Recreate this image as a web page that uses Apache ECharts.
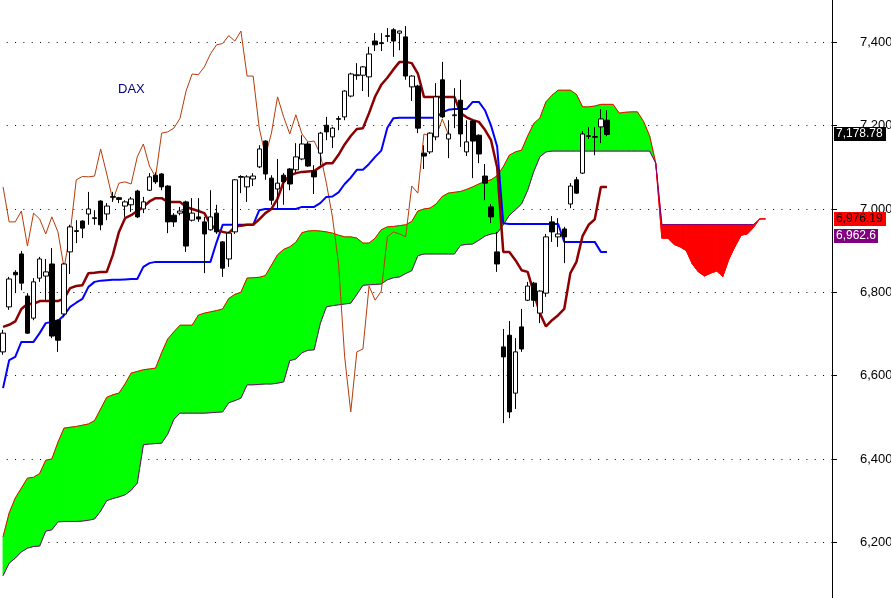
<!DOCTYPE html>
<html><head><meta charset="utf-8">
<script src="https://cdn.jsdelivr.net/npm/echarts/dist/echarts.min.js"></script>
<style>html,body{margin:0;padding:0;background:#fff}#c{width:891px;height:598px}</style>
</head><body><div id="c"></div>
<script>
// ---- candle data (DAX daily) ----
const open = [6657,6765,6848,6892,6791,6738,6834,6839,6868,6733,6748,6897,6946,6971,6988,6977,7019,6988,7028,7027,
7007,7010,7043,7000,7045,7081,7084,7055,6985,6990,7017,6973,6981,6969,6950,6990,6921,6880,6945,7076,
7053,7072,7101,7163,7074,7048,7081,7096,7094,7120,7156,7091,7134,7201,7173,7215,7221,7271,7320,7321,
7317,7403,7399,7414,7430,7422,7413,7293,7295,7134,7137,7173,7310,7168,7224,7261,7137,7211,7177,7079,
7005,6897,6669,6697,6558,6717,6781,6822,6750,6798,6969,6933,6952,7012,7070,7086,7174,7172,7197,7213];
const close = [6702,6832,6842,6822,6702,6825,6880,6849,6695,6685,6868,6957,6948,6954,7000,6979,6962,7007,7030,7023,
7017,7024,6981,7017,7077,7065,7053,6969,6969,6995,6911,6990,6976,6940,6981,6945,6858,6942,7070,7078,
7077,7079,7144,7084,7021,7062,7065,7060,7125,7156,7103,7077,7182,7185,7194,7217,7283,7324,7322,7341,
7372,7394,7397,7416,7403,7427,7319,7319,7194,7127,7182,7269,7221,7180,7226,7180,7161,7163,7132,7062,
6981,6868,6645,6513,6657,6664,6815,6781,6803,6933,6945,6940,6933,7055,7038,7180,7176,7174,7216,7178.78];
const low = [6650,6758,6798,6805,6700,6733,6825,6781,6690,6657,6740,6844,6918,6930,6962,6962,6949,6973,7017,7014,
6981,6993,6978,6990,7043,7060,7045,6942,6957,6985,6897,6970,6969,6846,6948,6940,6837,6861,6940,7038,
7017,7055,7098,7070,7010,7002,7010,7045,7088,7117,7101,7036,7105,7165,7146,7189,7213,7268,7310,7283,
7269,7379,7379,7401,7365,7381,7310,7259,7182,7096,7132,7165,7218,7122,7194,7149,7127,7074,7110,7021,
6966,6849,6486,6498,6520,6657,6779,6765,6726,6789,6921,6909,6870,7002,7036,7084,7168,7129,7158,7175];
const high = [6710,6837,6853,6899,6798,6834,6885,6880,6906,6735,6870,6962,6973,6973,7041,6997,7021,7014,7041,7029,
7021,7029,7046,7029,7086,7088,7086,7057,6990,7005,7020,7026,7026,6981,7045,7010,6923,6945,7072,7081,
7081,7086,7153,7165,7081,7120,7086,7098,7158,7177,7161,7105,7185,7221,7197,7223,7285,7327,7350,7343,
7389,7422,7422,7434,7434,7428,7439,7321,7298,7153,7184,7302,7353,7213,7290,7310,7213,7213,7179,7108,
7012,6945,6712,6731,6690,6760,6825,6825,6805,6940,6983,6978,6957,7062,7077,7187,7197,7197,7240,7237];

// ---- Ichimoku lines ----
const tenkan = [6717,6722,6730,6760,6772,6772,6779,6779,6779,6779,6785,6810,6815,6817,6846,6847,6849,6849,6890,6945,
6978,6985,6995,7005,7018,7026,7026,7017,7017,7017,7005,7000,6995,6990,6963,6950,6945,6942,6957,6960,
6962,6962,6975,6990,7000,7025,7065,7080,7086,7089,7090,7091,7101,7110,7110,7130,7155,7175,7192,7194,
7230,7270,7298,7315,7335,7353,7353,7350,7325,7269,7269,7269,7269,7269,7269,7230,7220,7213,7209,7190,
7165,7100,6897,6897,6877,6853,6849,6800,6750,6718,6733,6745,6760,6846,6873,6935,6962,6975,7053,7053];
const kijun = [6570,6637,6645,6681,6681,6681,6702,6726,6729,6731,6745,6765,6775,6784,6813,6825,6828,6829,6830,6830,
6831,6832,6832,6861,6870,6873,6873,6873,6873,6873,6873,6873,6873,6873,6873,6920,6962,6962,6962,6962,
6962,6962,6997,7000,7000,7000,7000,7000,7000,7005,7005,7005,7014,7029,7030,7040,7060,7075,7094,7094,
7108,7125,7140,7195,7218,7219,7219,7219,7219,7219,7219,7219,7232,7238,7240,7240,7240,7257,7257,7237,
7200,7150,6966,6964,6964,6964,6964,6964,6964,6964,6964,6964,6921,6921,6921,6921,6921,6921,6897,6897];
const senkouA = [6213,6270,6306,6330,6354,6356,6365,6397,6400,6440,6474,6476,6478,6481,6484,6492,6520,6548,6554,6558,
6580,6606,6610,6614,6616,6618,6655,6688,6705,6721,6721,6721,6745,6750,6753,6756,6760,6785,6795,6800,
6834,6835,6836,6840,6865,6890,6903,6909,6920,6943,6947,6948,6947,6945,6942,6937,6933,6933,6930,6918,
6918,6930,6950,6957,6958,6960,6962,6970,6995,7000,7002,7012,7030,7038,7040,7042,7047,7053,7060,7066,
7070,7080,7101,7129,7137,7141,7175,7205,7218,7257,7273,7285,7285,7285,7275,7245,7245,7247,7251,7251,
7251,7230,7232,7233,7233,7210,7175,7110,6930,6930,6915,6909,6900,6868,6849,6839,6846,6851,6838,6880,
6910,6937,6940,6955,6976,6976.19];
const senkouB = [6120,6150,6162,6177,6186,6190,6191,6227,6230,6249,6250,6250,6250,6251,6253,6256,6275,6300,6305,6309,
6314,6325,6342,6434,6436,6437,6438,6460,6495,6510,6510,6510,6510,6510,6511,6512,6513,6535,6540,6546,
6578,6578,6579,6580,6580,6582,6585,6636,6640,6655,6661,6662,6725,6765,6768,6770,6772,6774,6795,6817,
6818,6819,6820,6830,6835,6837,6845,6852,6888,6892,6892,6892,6892,6892,6892,6913,6915,6916,6925,6935,
6940,6942,6962,6985,6998,7012,7045,7090,7125,7137,7139,7139,7139,7139,7139,7139,7139,7139,7139,7139,
7139,7139,7139,7139,7139,7139,7139,7110,6962.6,6962.6,6962.6,6962.6,6962.6,6962.6,6962.6,6962.6,6962.6,6962.6,
6962.6,6962.6,6962.6,6962.6,6962.6,6962.6];
const yTicks = [6200,6400,6600,6800,7000,7200,7400];
const title = 'DAX';
const SHIFT = 26;
const NCAT = 137;

// ---- build ----
const categories = Array.from({length: NCAT}, (_, i) => String(i));
const candleData = open.map((o, i) => [o, close[i], low[i], high[i]]);
const chikou = close.slice(SHIFT);
const cloudData = [];
for (let i = 0; i < senkouA.length - 1; i++) cloudData.push([i, senkouA[i], senkouB[i], senkouA[i+1], senkouB[i+1]]);

const GREEN = '#00FF00', RED = '#FF0000';
function poly(points, color) {
  return {type: 'polygon', shape: {points}, style: {fill: color, stroke: color, lineWidth: 1}};
}
function renderCloud(params, api) {
  const i = api.value(0);
  const va0 = api.value(1), vb0 = api.value(2), va1 = api.value(3), vb1 = api.value(4);
  const a0 = api.coord([i, va0]), b0 = api.coord([i, vb0]);
  const a1 = api.coord([i + 1, va1]), b1 = api.coord([i + 1, vb1]);
  const d0 = va0 - vb0, d1 = va1 - vb1;
  const children = [];
  if (d0 * d1 < 0) {
    const t = d0 / (d0 - d1);
    const c = [a0[0] + t * (a1[0] - a0[0]), a0[1] + t * (a1[1] - a0[1])];
    children.push(poly([a0, c, b0], d0 > 0 ? GREEN : RED));
    children.push(poly([c, a1, b1], d1 > 0 ? GREEN : RED));
  } else {
    children.push(poly([a0, a1, b1, b0], (d0 + d1) >= 0 ? GREEN : RED));
  }
  return {type: 'group', children};
}

const chart = echarts.init(document.getElementById('c'), null, {renderer: 'canvas'});
const FONT = 'Arial, "Liberation Sans", sans-serif';
chart.setOption({
  animation: false,
  backgroundColor: '#ffffff',
  grid: {left: 0, top: -41.03, width: 835.7, height: 666.67, containLabel: false, outerBoundsMode: 'none'},
  xAxis: {
    type: 'category', data: categories, boundaryGap: true,
    axisLine: {show: false}, axisTick: {show: false}, axisLabel: {show: false}, splitLine: {show: false}
  },
  yAxis: {
    type: 'value', position: 'right', min: 6000, max: 7600, interval: 200, offset: -3.7,
    axisLine: {show: true, lineStyle: {color: '#000', width: 1}},
    axisTick: {show: true, length: 5, lineStyle: {color: '#000'}},
    axisLabel: {margin: 28, color: '#000', fontSize: 13, fontFamily: FONT,
      formatter: v => yTicks.includes(v) ? v.toLocaleString('en-US') : ''},
    splitLine: {show: true, lineStyle: {color: '#000', width: 1, type: [1, 7.33], dashOffset: 1.6}}
  },
  series: [
    {type: 'custom', name: 'cloud', renderItem: renderCloud, data: cloudData,
      encode: {x: 0, y: [1, 2, 3, 4]}, clip: true, z: 1, silent: true},
    {type: 'line', name: 'Senkou A', data: senkouA, symbol: 'none', z: 2,
      lineStyle: {color: '#FF0000', width: 1}},
    {type: 'line', name: 'Senkou B', data: senkouB, symbol: 'none', z: 2,
      lineStyle: {color: '#800080', width: 1}},
    {type: 'line', name: 'Chikou', data: chikou, symbol: 'none', z: 3,
      lineStyle: {color: '#B43C0A', width: 1}},
    {type: 'line', name: 'Kijun', data: kijun, symbol: 'none', z: 3,
      lineStyle: {color: '#0000FF', width: 2}},
    {type: 'line', name: 'Tenkan', data: tenkan, symbol: 'none', z: 3,
      lineStyle: {color: '#8B0000', width: 2.5}},
    {type: 'candlestick', name: 'DAX', data: candleData, barWidth: 5, z: 4,
      itemStyle: {color: '#FFFFFF', color0: '#000000', borderColor: '#000000', borderColor0: '#000000', borderWidth: 1}}
  ]
});

// last-value tags positioned with the axis scale
const lastIdx = close.length - 1;
const tags = [
  {v: close[lastIdx], text: close[lastIdx].toLocaleString('en-US', {minimumFractionDigits: 2}), bg: '#000000', fg: '#FFFFFF', w: 52, dy: 0},
  {v: senkouA[senkouA.length - 1], text: senkouA[senkouA.length - 1].toLocaleString('en-US', {minimumFractionDigits: 2}), bg: '#FF0000', fg: '#000000', w: 52, dy: 0},
  {v: senkouB[senkouB.length - 1], text: senkouB[senkouB.length - 1].toLocaleString('en-US', {minimumFractionDigits: 1}), bg: '#800080', fg: '#FFFFFF', w: 44, dy: 11}
];
const graphics = [{
  type: 'text', left: 118, top: 83, z: 10,
  style: {text: title, fill: '#000080', font: '13px ' + FONT}
}];
tags.forEach(t => {
  const y = chart.convertToPixel({yAxisIndex: 0}, t.v) + t.dy;
  graphics.push({type: 'rect', x: 834, y: Math.round(y) - 7, z: 20,
    shape: {width: t.w, height: 14}, style: {fill: t.bg}});
  graphics.push({type: 'text', x: 836, y: Math.round(y), z: 21,
    style: {text: t.text, fill: t.fg, font: '12px ' + FONT, verticalAlign: 'middle'}});
});
chart.setOption({graphic: graphics});
</script></body></html>
